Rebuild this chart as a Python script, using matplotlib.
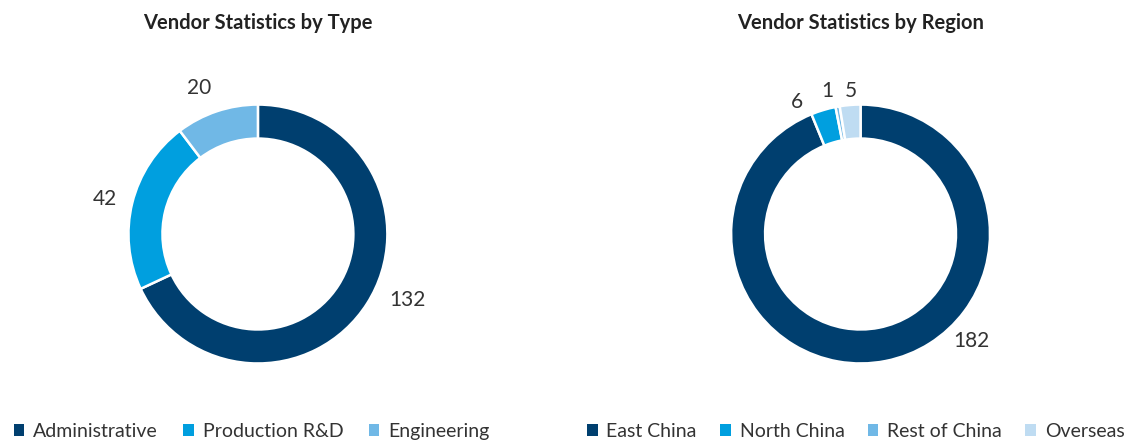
import numpy as np
import matplotlib.pyplot as plt
from matplotlib.patches import Patch

plt.rcParams['font.family'] = ['Lato', 'DejaVu Sans']

# data
type_labels = ["Administrative", "Production R&D", "Engineering"]
type_values = [132, 42, 20]
region_labels = ["East China", "North China", "Rest of China", "Overseas"]
region_values = [182, 6, 1, 5]

colors = ["#003F6F", "#009FDF", "#70B8E6", "#BFDCF2"]
text_col = "#333333"

fig = plt.figure(figsize=(11.42, 4.43), dpi=100)

def donut(left, values, title, label_shift):
    ax = fig.add_axes([left, 0.088, 0.2977, 0.7675])
    wedges, _ = ax.pie(values, colors=colors[:len(values)], startangle=90,
                       counterclock=False, radius=0.99,
                       wedgeprops=dict(width=0.26, edgecolor="white", linewidth=1.8))
    ax.set_xlim(-1.3, 1.3)
    ax.set_ylim(-1.3, 1.3)
    ax.set_aspect("equal")
    ax.axis("off")
    # value labels outside the ring
    for w, v, (dang, r) in zip(wedges, values, label_shift):
        ang = np.deg2rad((w.theta1 + w.theta2) / 2 + dang)
        ax.text(r * np.cos(ang), r * np.sin(ang), str(v), ha="center", va="center",
                fontsize=15, color=text_col)
    fig.text(left + 0.2977 / 2, 0.948, title, ha="center", va="center",
             fontsize=14.5, fontweight="bold", color="#222222")

donut(0.077, type_values, "Vendor Statistics by Type",
      [(8.6, 1.25), (1, 1.2), (3.4, 1.2)])
donut(0.6047, region_values, "Vendor Statistics by Region",
      [(35, 1.18), (9, 1.12), (3, 1.12), (-0.7, 1.1)])

# legends
leg_kw = dict(loc="lower left", frameon=False, fontsize=14, handlelength=0.55,
              handleheight=0.55, handletextpad=0.45, labelcolor=text_col,
              borderpad=0, borderaxespad=0)
h1 = [Patch(facecolor=colors[i], edgecolor="none") for i in range(3)]
fig.legend(h1, type_labels, bbox_to_anchor=(0.012, 0.007), ncol=3,
           columnspacing=1.3, **leg_kw)
h2 = [Patch(facecolor=colors[i], edgecolor="none") for i in range(4)]
fig.legend(h2, region_labels, bbox_to_anchor=(0.514, 0.007), ncol=4,
           columnspacing=1.2, **leg_kw)

fig.savefig("out.png", dpi=100, facecolor="white")
